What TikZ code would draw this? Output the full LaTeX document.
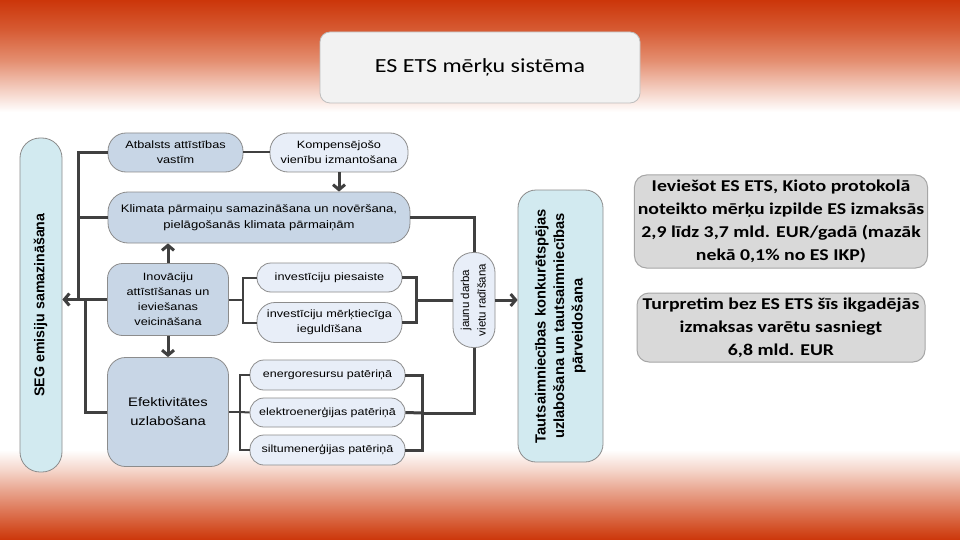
\documentclass[tikz,border=0pt]{standalone}
\usepackage{fontspec}
\setmainfont{Liberation Sans}[FakeStretch=1.2]
\newfontfamily\plainsans{Liberation Sans}
\newfontfamily\calib{Carlito}[FakeStretch=1.2]
\usetikzlibrary{arrows.meta}
\definecolor{bgred}{RGB}{204,54,10}
\definecolor{tb1}{RGB}{214,90,50}
\definecolor{tb2}{RGB}{228,142,112}
\definecolor{tb3}{RGB}{243,202,188}
\definecolor{bb1}{RGB}{210,76,34}
\definecolor{bb2}{RGB}{222,120,88}
\definecolor{bb3}{RGB}{233,166,144}
\definecolor{bb4}{RGB}{245,214,203}
\definecolor{darkfill}{RGB}{200,214,230}
\definecolor{lightfill}{RGB}{232,238,248}
\definecolor{cyanfill}{RGB}{210,234,240}
\definecolor{boxline}{RGB}{140,140,140}
\definecolor{connc}{RGB}{64,64,64}
\definecolor{infofill}{RGB}{217,217,217}
\definecolor{infoline}{RGB}{166,166,166}
\definecolor{titlefill}{RGB}{242,242,242}
\definecolor{titleline}{RGB}{190,190,190}
\pgfdeclareverticalshading{topband}{100bp}{color(0bp)=(white); color(25bp)=(white); color(36bp)=(tb3); color(48bp)=(tb2); color(62bp)=(tb1); color(75bp)=(bgred); color(100bp)=(bgred)}
\pgfdeclareverticalshading{botband}{100bp}{color(0bp)=(bgred); color(25bp)=(bgred); color(30bp)=(bb1); color(40bp)=(bb2); color(50bp)=(bb3); color(60bp)=(bb4); color(70bp)=(white); color(100bp)=(white)}
\newcommand{\vtext}[1]{\rotatebox{90}{\begin{tabular}{@{}c@{}}#1\end{tabular}}}
\begin{document}
\begin{tikzpicture}[x=1pt,y=-1pt,
  box/.style={draw=boxline, line width=0.8pt, align=center, inner sep=2pt, font=\fontsize{10.6}{15}\selectfont},
  dark/.style={box, fill=darkfill},
  light/.style={box, fill=lightfill},
  cyanbox/.style={box, fill=cyanfill},
  conn/.style={draw=connc, line width=3pt},
  connm/.style={draw=connc, line width=2pt},
  arr/.style={conn, -{Straight Barb[length=5pt,width=12pt]}},
  info/.style={draw=infoline, fill=infofill, line width=1pt, rounded corners=12pt, minimum width=288pt, align=center, font=\calib\bfseries\fontsize{16.5}{23}\selectfont},
]
\useasboundingbox (0,0) rectangle (960,540);
\fill[white] (0,0) rectangle (960,540);
\shade[shading=topband] (0,0) rectangle (960,112);
\shade[shading=botband] (0,440) rectangle (960,540);

\node[draw=titleline, fill=titlefill, line width=0.8pt, rounded corners=10pt, minimum width=320pt, minimum height=71pt, font=\calib\fontsize{20}{24}\selectfont] (title) at (480,67.5) {ES ETS mērķu sistēma};

\node[cyanbox, minimum width=42pt, minimum height=334pt, rounded corners=20pt, font=\plainsans\bfseries\fontsize{14.2}{17}\selectfont] (seg) at (41,305) {\vtext{SEG emisiju samazināšana}};

\node[dark, minimum width=135pt, minimum height=39pt, rounded corners=18pt] (atb) at (175.5,152.5) {Atbalsts attīstības\\vastīm};
\node[light, minimum width=138pt, minimum height=39pt, rounded corners=18pt] (komp) at (339,152.5) {Kompensējošo\\vienību izmantošana};
\node[dark, minimum width=302pt, minimum height=51pt, rounded corners=20pt, font=\fontsize{10.9}{15.5}\selectfont] (klim) at (259,217.5) {Klimata pārmaiņu samazināšana un novēršana,\\pielāgošanās klimata pārmaiņām};
\node[dark, minimum width=121pt, minimum height=72pt, rounded corners=15pt] (inov) at (168,299.5) {Inovāciju\\attīstīšanas un\\ieviešanas\\veicināšana};
\node[light, minimum width=145pt, minimum height=29pt, rounded corners=14pt] (pies) at (329.5,277.5) {investīciju piesaiste};
\node[light, minimum width=145pt, minimum height=40pt, rounded corners=18pt] (merk) at (329.5,322.5) {investīciju mērķtiecīga\\ieguldīšana};
\node[dark, minimum width=121pt, minimum height=109pt, rounded corners=18pt, font=\fontsize{12.3}{19}\selectfont] (efek) at (168,412) {Efektivitātes\\uzlabošana};
\node[light, minimum width=155pt, minimum height=30pt, rounded corners=14pt, font=\fontsize{10.4}{13}\selectfont] (ener) at (327.5,375) {energoresursu patēriņā};
\node[light, minimum width=155pt, minimum height=29pt, rounded corners=14pt, font=\fontsize{10.4}{13}\selectfont] (elek) at (327.5,412.5) {elektroenerģijas patēriņā};
\node[light, minimum width=155pt, minimum height=30pt, rounded corners=14pt, font=\fontsize{10.4}{13}\selectfont] (silt) at (327.5,450) {siltumenerģijas patēriņā};
\node[light, minimum width=42pt, minimum height=95pt, rounded corners=20pt, font=\plainsans\fontsize{11.5}{16.5}\selectfont] (jaun) at (474,300) {\vtext{jaunu darba\\vietu radīšana}};
\node[cyanbox, minimum width=85pt, minimum height=272pt, rounded corners=18pt, font=\plainsans\bfseries\fontsize{14.7}{18.5}\selectfont] (taut) at (560.5,326) {\vtext{Tautsaimniecības konkurētspējas\\uzlabošana un tautsaimniecības\\pārveidošana}};

\node[info, minimum height=93pt] (info1) at (781,221.5) {Ieviešot ES ETS, Kioto protokolā\\noteikto mērķu izpilde ES izmaksās\\2,9 līdz 3,7 mld. EUR/gadā (mazāk\\nekā 0,1\% no ES IKP)};
\node[info, minimum height=69pt] (info2) at (781,327.5) {Turpretim bez ES ETS šīs ikgadējās\\izmaksas varētu sasniegt\\6,8 mld. EUR};

% left bus
\coordinate (busA) at (78,299.5);
\coordinate (busB) at (85,299.5);
\draw[conn] (atb.west) -| (busA);
\draw[conn] (klim.west) -- (klim.west -| busA);
\draw[conn] (efek.west) -| (busB);
\draw[arr] (inov.west) -- (seg.east |- inov.west);

% top row
\draw[connm] (atb.east) -- (komp.west);
\draw[arr] (komp.south) -- (komp.south |- klim.north);
\draw[arr] (inov.north) -- (inov.north |- klim.south);
\draw[arr] (inov.south) -- (efek.north);

% investment bracket
\coordinate (ib) at (243,299.5);
\draw[connm] (inov.east) -- (ib);
\draw[connm] (pies.west) -| (ib);
\draw[connm] (merk.west) -| (ib);
\coordinate (rb) at (416,300);
\draw[conn] (pies.east) -| (rb);
\draw[conn] (merk.east) -| (rb);
\draw[conn] (rb) -- (rb -| jaun.west);

% klimata to jobs
\draw[conn] (klim.east) -| (jaun.north);
\draw[arr] (jaun.east) -- (jaun.east -| taut.west);

% energy brackets
\coordinate (eb) at (422,413);
\draw[conn] (jaun.south) |- (eb);
\draw[conn] (ener.east) -| (eb);
\draw[conn] (silt.east) -| (eb);
\draw[conn] (elek.east) -- (eb);
\coordinate (lb) at (240,412);
\draw[connm] (efek.east) -- (lb);
\draw[connm] (ener.west) -| (lb);
\draw[connm] (silt.west) -| (lb);
\draw[connm] (elek.west) -- (lb);
\end{tikzpicture}
\end{document}
